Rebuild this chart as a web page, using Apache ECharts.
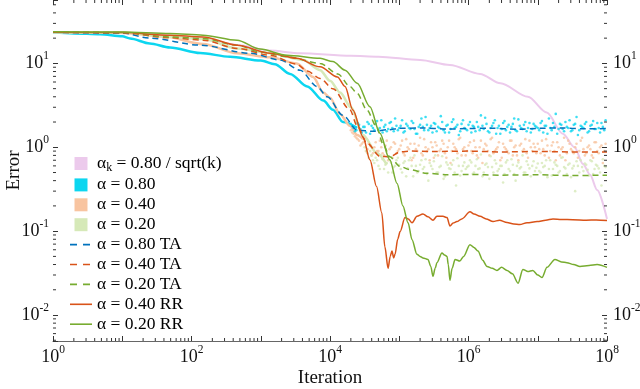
<!DOCTYPE html>
<html>
<head>
<meta charset="utf-8">
<script src="https://cdn.jsdelivr.net/npm/echarts@6/dist/echarts.min.js"></script>
<style>
html, body { margin: 0; padding: 0; background: #fff; }
#chart { width: 640px; height: 389px; }
</style>
</head>
<body>
<div id="chart"></div>
<script>
const FONT = "'Liberation Serif', 'DejaVu Serif', serif";

// [iteration, error]
const decayStep = [[1,23.5],[20,22.8],[133,20],[500,16.5],[1350,14.2],[3700,13.2],[2e4,12.3],[5e4,12.0],[2e5,11.0],[5.4e5,9.6],[1.47e6,7.5],[2.9e6,5.8],[7.2e6,4.0],[1.35e7,2.6],[2.3e7,1.45],[3.4e7,1.0],[4.5e7,0.63],[5.7e7,0.47],[7.2e7,0.31],[1e8,0.14]];

const a80Line = [[1,23.3],[2,22.8],[4.8,22.2],[10,21],[13,19.8],[25,17.3],[49,15.5],[133,13.3],[360,12],[1000,10.8],[1600,9.8],[2650,7.5],[4700,5.3],[8000,3.6],[1.1e4,2.8],[1.54e4,2.0],[2.47e4,1.7]];
const a40Line = [[1,23.5],[10,23.2],[40,21],[147,17],[455,13.2],[1370,11.8],[3300,10],[5700,6.9],[8000,4.5],[1e4,3.9],[1.39e4,2.5],[1.94e4,1.8],[2.47e4,1.4],[3e4,1.25]];
const a20Line = [[1,23.5],[10,23.3],[49,20.7],[147,19.5],[455,15.1],[1370,13.2],[4100,11],[7200,8.3],[1e4,6.2],[1.4e4,4.5],[2e4,3.0],[3e4,1.4],[4.7e4,0.86],[6.6e4,0.62]];

// sample iterations of the noisy iterates (two interleaved sets)
const dotX = [2.0e4,2.19e4,2.4e4,2.63e4,2.88e4,3.16e4,3.47e4,3.8e4,4.17e4,4.57e4,5.01e4,5.5e4,6.03e4,6.61e4,7.24e4,7.94e4,8.71e4,9.55e4,
  1.05e5,1.15e5,1.26e5,1.38e5,1.51e5,1.66e5,1.82e5,2.0e5,2.19e5,2.4e5,2.63e5,2.88e5,3.16e5,3.47e5,3.8e5,4.17e5,4.57e5,5.01e5,5.5e5,6.03e5,6.61e5,7.24e5,7.94e5,8.71e5,9.55e5,
  1.05e6,1.15e6,1.26e6,1.38e6,1.51e6,1.66e6,1.82e6,2.0e6,2.19e6,2.4e6,2.63e6,2.88e6,3.16e6,3.47e6,3.8e6,4.17e6,4.57e6,5.01e6,5.5e6,6.03e6,6.61e6,7.24e6,7.94e6,8.71e6,9.55e6,
  1.05e7,1.15e7,1.26e7,1.38e7,1.51e7,1.66e7,1.82e7,2.0e7,2.19e7,2.4e7,2.63e7,2.88e7,3.16e7,3.47e7,3.8e7,4.17e7,4.57e7,5.01e7,5.5e7,6.03e7,6.61e7,7.24e7,7.94e7,8.71e7,9.55e7];
const dotX2 = [2.09e4,2.29e4,2.51e4,2.75e4,3.02e4,3.31e4,3.63e4,3.98e4,4.37e4,4.79e4,5.25e4,5.75e4,6.31e4,6.92e4,7.59e4,8.32e4,9.12e4,
  1.0e5,1.1e5,1.2e5,1.32e5,1.45e5,1.59e5,1.74e5,1.91e5,2.09e5,2.29e5,2.51e5,2.75e5,3.02e5,3.31e5,3.63e5,3.98e5,4.37e5,4.79e5,5.25e5,5.75e5,6.31e5,6.92e5,7.59e5,8.32e5,9.12e5,
  1.0e6,1.1e6,1.2e6,1.32e6,1.45e6,1.59e6,1.74e6,1.91e6,2.09e6,2.29e6,2.51e6,2.75e6,3.02e6,3.31e6,3.63e6,3.98e6,4.37e6,4.79e6,5.25e6,5.75e6,6.31e6,6.92e6,7.59e6,8.32e6,9.12e6,
  1.0e7,1.1e7,1.2e7,1.32e7,1.45e7,1.59e7,1.74e7,1.91e7,2.09e7,2.29e7,2.51e7,2.75e7,3.02e7,3.31e7,3.63e7,3.98e7,4.37e7,4.79e7,5.25e7,5.75e7,6.31e7,6.92e7,7.59e7,8.32e7,9.12e7];

const a80Dots = [1.9,1.7,1.6,1.85,1.5,1.75,2.0,1.45,1.7,1.9,1.6,2.1,1.75,1.55,1.95,1.7,2.2,1.6,
  1.8,1.5,1.9,1.7,2.05,1.65,1.45,1.85,1.75,2.3,1.6,1.8,1.95,1.55,1.7,2.0,1.5,1.85,1.65,2.15,1.75,1.4,1.9,1.7,1.6,
  2.0,1.8,1.55,1.75,2.4,1.65,1.9,1.5,1.8,2.1,1.7,1.45,1.95,1.6,1.85,1.75,2.2,1.55,1.8,1.65,2.0,1.7,1.5,1.9,1.75,
  1.6,2.05,1.8,1.45,1.7,1.95,2.5,1.65,1.85,1.55,1.75,2.1,1.6,1.9,1.4,1.8,1.7,2.0,1.55,1.85,1.65,1.95,1.5,1.75,2.1];
const a80Dots2 = [1.8,1.55,1.95,1.65,1.75,1.5,1.9,1.8,1.6,2.05,1.7,1.5,1.85,1.65,2.0,1.55,1.8,
  1.7,2.1,1.55,1.8,1.65,1.95,1.45,1.75,2.2,1.6,1.85,1.7,1.5,1.9,1.75,2.35,1.6,1.8,1.5,2.0,1.7,1.85,1.55,2.1,1.65,
  1.85,1.5,1.75,2.0,1.6,1.8,2.25,1.55,1.7,1.95,1.45,1.8,1.65,2.05,1.75,1.5,1.9,1.6,2.15,1.7,1.85,1.55,1.95,1.65,1.8,
  1.7,1.95,1.5,1.8,2.2,1.6,1.75,1.45,1.9,1.65,2.0,1.7,1.55,1.85,2.3,1.6,1.75,1.9,1.5,1.8,2.05,1.65,1.7,1.95,1.6];
const a40Dots = [1.6,1.45,1.3,1.2,1.1,1.25,0.95,1.05,0.85,1.15,0.9,1.0,0.8,1.2,0.95,0.75,1.1,0.9,
  1.05,0.85,1.25,0.95,0.7,1.1,0.9,1.3,0.8,1.0,0.95,1.15,0.75,1.05,0.9,1.2,0.85,1.0,0.65,1.1,0.95,1.25,0.8,1.0,0.9,
  1.15,0.85,1.0,0.75,1.2,0.95,1.05,0.8,1.3,0.9,1.0,0.7,1.1,0.95,0.85,1.2,1.0,0.8,1.05,0.9,1.25,0.75,1.0,1.1,0.85,
  0.95,1.2,0.8,1.05,0.9,1.15,0.7,1.0,0.95,1.3,0.85,1.1,0.9,1.0,0.75,1.2,0.95,0.85,1.05,0.8,1.15,0.9,1.0,0.65,1.1];
const a40Dots2 = [1.5,1.35,1.25,1.05,1.15,0.9,1.1,0.8,1.0,0.9,1.2,0.85,1.05,0.7,1.0,1.15,0.85,
  0.95,1.2,0.8,1.0,1.1,0.75,0.95,1.05,0.85,1.25,0.9,0.7,1.0,1.15,0.8,0.95,1.1,0.75,1.2,0.9,1.0,0.85,1.3,0.95,0.8,
  1.05,0.9,1.2,0.8,1.0,0.65,1.1,0.9,1.25,0.85,0.95,1.15,0.75,1.0,0.9,1.2,0.8,1.05,0.7,1.1,0.95,0.85,1.2,0.9,1.0,
  1.1,0.85,0.95,1.25,0.75,1.05,0.9,1.15,0.8,1.0,0.7,1.2,0.95,0.85,1.1,0.9,1.3,0.8,1.0,0.95,0.75,1.15,0.85,1.05,0.9];
const a20Dots = [null,null,null,null,null,1.0,0.85,0.9,0.7,0.75,0.6,0.8,0.55,0.65,0.7,0.5,0.6,0.75,
  0.55,0.65,0.45,0.7,0.6,0.8,0.5,0.62,0.55,0.72,0.4,0.6,0.68,0.5,0.58,0.78,0.45,0.62,0.55,0.7,0.35,0.6,0.52,0.66,0.58,
  0.7,0.48,0.6,0.55,0.82,0.5,0.64,0.42,0.58,0.7,0.52,0.6,0.38,0.66,0.55,0.72,0.48,0.6,0.56,0.8,0.5,0.62,0.45,0.68,0.57,
  0.52,0.65,0.6,0.44,0.7,0.55,0.62,0.5,0.75,0.58,0.48,0.64,0.56,0.3,0.6,0.7,0.52,0.62,0.46,0.68,0.55,0.6,0.5,0.72,0.58];
const a20Dots2 = [null,null,null,null,null,0.9,0.75,0.8,0.65,0.7,0.55,0.72,0.62,0.5,0.66,0.58,0.7,
  0.62,0.5,0.68,0.56,0.75,0.45,0.6,0.52,0.7,0.58,0.48,0.65,0.55,0.8,0.5,0.6,0.42,0.66,0.56,0.62,0.5,0.74,0.46,0.6,0.55,
  0.6,0.66,0.5,0.72,0.56,0.45,0.62,0.58,0.78,0.5,0.64,0.55,0.6,0.48,0.7,0.52,0.62,0.4,0.66,0.58,0.5,0.68,0.56,0.6,0.52,
  0.64,0.5,0.58,0.7,0.55,0.46,0.66,0.6,0.52,0.76,0.56,0.62,0.44,0.6,0.68,0.5,0.58,0.64,0.54,0.7,0.48,0.62,0.56,0.35,0.6];

const a80TA = [[1,23.5],[10,23],[25,20],[133,16.5],[700,13.2],[1900,11],[3700,8.3],[6500,5.3],[9100,4.0],[1.54e4,2.4],[2.47e4,1.6],[4.2e4,1.55],[7e4,1.62],[1e5,1.68],[2e5,1.7],[5e5,1.65],[1e6,1.67],[2e6,1.69],[5e6,1.64],[1e7,1.68],[2e7,1.7],[5e7,1.66],[1e8,1.67]];
const a40TA = [[1,23.5],[10,23.2],[49,20.2],[147,18.9],[455,15.1],[1370,12.5],[3300,9.8],[4700,8.1],[7200,6.6],[1.1e4,5.0],[1.94e4,2.8],[2.47e4,1.8],[3.4e4,1.13],[5.26e4,0.78],[7.3e4,0.77],[1.03e5,0.88],[1.5e5,0.9],[3e5,0.89],[1e6,0.9],[3e6,0.88],[1e7,0.89],[3e7,0.88],[1e8,0.88]];
const a20TA = [[1,23.6],[10,23.4],[49,20.7],[147,19.8],[455,16.5],[980,13.7],[2400,12],[7200,10],[1.3e4,7.5],[1.94e4,5.3],[2.47e4,4.4],[3.4e4,2.8],[4.7e4,1.76],[5.8e4,1.11],[7.3e4,0.77],[1.03e5,0.59],[1.44e5,0.54],[2.5e5,0.49],[5e5,0.47],[1e6,0.475],[3e6,0.465],[1e7,0.47],[3e7,0.46],[1e8,0.465]];

const a40RR = [[1,23.5],[10,23.3],[49,21.7],[147,20.7],[455,16.5],[1370,13.2],[3300,11.5],[7200,9.1],[1.28e4,6.9],[1.65e4,5.3],[2.13e4,2.8],[3.0e4,1.33],[3.77e4,0.71],[4.7e4,0.34],[5.6e4,0.165],[6.2e4,0.065],[6.9e4,0.036],[7.4e4,0.05],[7.85e4,0.058],[8.3e4,0.048],[8.7e4,0.053],[9.5e4,0.08],[1.03e5,0.099],[1.21e5,0.145],[1.35e5,0.14],[1.53e5,0.126],[1.8e5,0.15],[2.2e5,0.16],[2.6e5,0.148],[3.07e5,0.135],[3.5e5,0.15],[4.28e5,0.15],[4.9e5,0.145],[5.4e5,0.115],[6.0e5,0.125],[6.8e5,0.13],[8e5,0.14],[1.05e6,0.17],[1.2e6,0.16],[1.47e6,0.15],[1.8e6,0.14],[2.26e6,0.13],[2.8e6,0.135],[3.6e6,0.127],[4.5e6,0.122],[5.5e6,0.12],[7e6,0.126],[9.8e6,0.13],[1.3e7,0.135],[1.66e7,0.14],[2.2e7,0.138],[3.2e7,0.137],[5e7,0.135],[7e7,0.136],[1e8,0.134]];
const a20RR = [[1,23.8],[10,23.6],[49,22.7],[147,21.7],[455,18.9],[980,14.8],[2400,12.5],[7200,11.5],[1.1e4,10.5],[1.65e4,8.3],[2.47e4,5.8],[3.77e4,3.05],[5.26e4,1.47],[7.3e4,0.71],[9.3e4,0.37],[1.13e5,0.2],[1.34e5,0.126],[1.53e5,0.079],[1.8e5,0.053],[2.0e5,0.05],[2.2e5,0.048],[2.6e5,0.046],[2.85e5,0.038],[3.07e5,0.029],[3.3e5,0.036],[3.5e5,0.042],[4.14e5,0.055],[4.5e5,0.052],[4.9e5,0.05],[5.1e5,0.04],[5.4e5,0.026],[5.8e5,0.036],[6.4e5,0.046],[7.5e5,0.044],[8.5e5,0.05],[1.05e6,0.069],[1.2e6,0.064],[1.37e6,0.058],[1.6e6,0.045],[1.85e6,0.038],[2.2e6,0.036],[2.58e6,0.034],[3.0e6,0.037],[3.6e6,0.034],[4.3e6,0.031],[5.2e6,0.024],[6.1e6,0.035],[7.2e6,0.033],[8.5e6,0.034],[1.0e7,0.03],[1.15e7,0.028],[1.36e7,0.037],[1.77e7,0.046],[2.2e7,0.043],[2.64e7,0.042],[3.3e7,0.04],[4.07e7,0.038],[5.5e7,0.039],[7.2e7,0.04],[1e8,0.037]];

const Y_MIN = 0.0049, Y_MAX = 57;
const minorMantissa = [2, 3, 4, 5, 6, 7, 8, 9];

const NAMES = ['αk = 0.80 / sqrt(k)', 'α = 0.80', 'α = 0.40', 'α = 0.20',
  'α = 0.80 TA', 'α = 0.40 TA', 'α = 0.20 TA', 'α = 0.40 RR', 'α = 0.20 RR'];
const C = {
  pink: '#eccaec', cyan: '#0cd6f0', peach: '#f8c4a0', sage: '#d6e9b8',
  blue: '#0072bd', red: '#d95319', green: '#77ac30'
};

const ICON_SQ = 'path://M0,0H10V10H0Z';
const ICON_LINE = 'path://M0,0H22V1.6H0Z';
const ICON_DASH = 'path://M0,0H7V1.6H0Z M13,0H20V1.6H13Z M22,0H22V1.6H22Z';

const minorX = [];
for (let d = 0; d < 8; d++) minorMantissa.forEach(m => minorX.push([m * Math.pow(10, d), 1]));
const minorY = [];
for (let d = -3; d < 2; d++) minorMantissa.forEach(m => {
  const v = m * Math.pow(10, d);
  if (v > Y_MIN && v < Y_MAX) minorY.push([1, v]);
});

const dots = (xs, ys) => xs.map((x, i) => [x, ys[i]]).filter(p => p[1] != null);

const supLabel = (v, evenOnly) => {
  const l = Math.log10(v);
  const e = Math.round(l);
  if (Math.abs(l - e) > 1e-6) return '';
  if (evenOnly && e % 2 !== 0) return '';
  return '{b|10}{s|' + e + '}';
};
const supRich = {
  b: {fontFamily: FONT, fontSize: 18, lineHeight: 26, color: '#111'},
  s: {fontFamily: FONT, fontSize: 11.5, verticalAlign: 'top', lineHeight: 12, color: '#111'}
};
const tickStyle = {inside: true, length: 5, lineStyle: {color: '#333', width: 1}};

const lineSeries = (name, data, color, width, dashed, z) => ({
  name, type: 'line', data, showSymbol: false, symbol: 'none', z,
  smooth: 0.3, smoothMonotone: 'x',
  lineStyle: {color, width, type: dashed ? [6, 4] : 'solid'},
  itemStyle: {color}
});
const dotSeries = (name, data, color) => ({
  name, type: 'scatter', data, symbolSize: 2.6, z: 2,
  itemStyle: {color}
});

const tickRender = (vertical) => (params, api) => {
  const cs = params.coordSys;
  if (vertical) {
    const x = api.coord([api.value(0), 1])[0];
    const b = cs.y + cs.height;
    return {type: 'group', children: [
      {type: 'line', shape: {x1: x, y1: b, x2: x, y2: b - 3}, style: {stroke: '#333', lineWidth: 1}},
      {type: 'line', shape: {x1: x, y1: cs.y, x2: x, y2: cs.y + 3}, style: {stroke: '#333', lineWidth: 1}}
    ]};
  }
  const y = api.coord([1, api.value(1)])[1];
  const r = cs.x + cs.width;
  return {type: 'group', children: [
    {type: 'line', shape: {x1: cs.x, y1: y, x2: cs.x + 3, y2: y}, style: {stroke: '#333', lineWidth: 1}},
    {type: 'line', shape: {x1: r, y1: y, x2: r - 3, y2: y}, style: {stroke: '#333', lineWidth: 1}}
  ]};
};

const options = {
  animation: false,
  backgroundColor: '#fff',
  grid: {left: 53, right: 33, top: 0, bottom: 48, outerBoundsMode: 'none', containLabel: false},
  legend: {
    orient: 'vertical',
    left: 65,
    top: 148,
    itemWidth: 22,
    itemHeight: 13,
    itemGap: 1.9,
    selectedMode: false,
    itemStyle: {borderWidth: 0},
    textStyle: {
      fontFamily: FONT, fontSize: 17.5, lineHeight: 16, color: '#000',
      rich: {
        t: {fontFamily: FONT, fontSize: 17.5, lineHeight: 16, color: '#000'},
        sub: {fontFamily: FONT, fontSize: 12, lineHeight: 13, padding: [9, 0, 0, 0], color: '#000'}
      }
    },
    formatter: name => name === NAMES[0] ? '{t|α}{sub|k}{t| = 0.80 / sqrt(k)}' : name,
    data: [
      {name: NAMES[0], icon: ICON_SQ},
      {name: NAMES[1], icon: ICON_SQ},
      {name: NAMES[2], icon: ICON_SQ},
      {name: NAMES[3], icon: ICON_SQ},
      {name: NAMES[4], icon: ICON_DASH},
      {name: NAMES[5], icon: ICON_DASH},
      {name: NAMES[6], icon: ICON_DASH},
      {name: NAMES[7], icon: ICON_LINE},
      {name: NAMES[8], icon: ICON_LINE}
    ]
  },
  xAxis: [
    {
      type: 'log', min: 1, max: 1e8, splitNumber: 8, position: 'bottom',
      name: 'Iteration', nameLocation: 'middle', nameGap: 28, nameMoveOverlap: false,
      nameTextStyle: {fontFamily: FONT, fontSize: 19, color: '#111'},
      axisLine: {show: true, lineStyle: {color: '#666', width: 1}},
      axisTick: tickStyle,
      axisLabel: {margin: 3, formatter: v => supLabel(v, true), rich: supRich},
      splitLine: {show: false}
    },
    {
      type: 'log', min: 1, max: 1e8, splitNumber: 8, position: 'top',
      axisLine: {show: false}, axisTick: tickStyle, axisLabel: {show: false}, splitLine: {show: false}
    }
  ],
  yAxis: [
    {
      type: 'log', min: Y_MIN, max: Y_MAX, position: 'left',
      name: 'Error', nameLocation: 'middle', nameGap: 29, nameRotate: 90, nameMoveOverlap: false,
      nameTextStyle: {fontFamily: FONT, fontSize: 19, color: '#111'},
      axisLine: {show: false}, axisTick: tickStyle,
      axisLabel: {margin: 4, formatter: v => supLabel(v, false), rich: supRich},
      splitLine: {show: false}
    },
    {
      type: 'log', min: Y_MIN, max: Y_MAX, position: 'right',
      axisLine: {show: false}, axisTick: tickStyle,
      axisLabel: {margin: 6, formatter: v => supLabel(v, false), rich: supRich},
      splitLine: {show: false}
    }
  ],
  series: [
    lineSeries(NAMES[0], decayStep, C.pink, 2, false, 1),
    lineSeries(NAMES[1], a80Line, C.cyan, 2.5, false, 2),
    dotSeries(NAMES[1], dots(dotX, a80Dots).concat(dots(dotX2, a80Dots2)), C.cyan),
    lineSeries(NAMES[2], a40Line, C.peach, 2.5, false, 2),
    dotSeries(NAMES[2], dots(dotX, a40Dots).concat(dots(dotX2, a40Dots2)), C.peach),
    lineSeries(NAMES[3], a20Line, C.sage, 2.5, false, 2),
    dotSeries(NAMES[3], dots(dotX, a20Dots).concat(dots(dotX2, a20Dots2)), C.sage),
    lineSeries(NAMES[4], a80TA, C.blue, 1.5, true, 3),
    lineSeries(NAMES[5], a40TA, C.red, 1.5, true, 3),
    lineSeries(NAMES[6], a20TA, C.green, 1.5, true, 3),
    lineSeries(NAMES[7], a40RR, C.red, 1.5, false, 4),
    lineSeries(NAMES[8], a20RR, C.green, 1.5, false, 4),
    {type: 'custom', silent: true, z: 5, data: minorX, renderItem: tickRender(true), clip: false},
    {type: 'custom', silent: true, z: 5, data: minorY, renderItem: tickRender(false), clip: false}
  ]
};

const myChart = echarts.init(document.getElementById('chart'));
myChart.setOption(options);
</script>
</body>
</html>
